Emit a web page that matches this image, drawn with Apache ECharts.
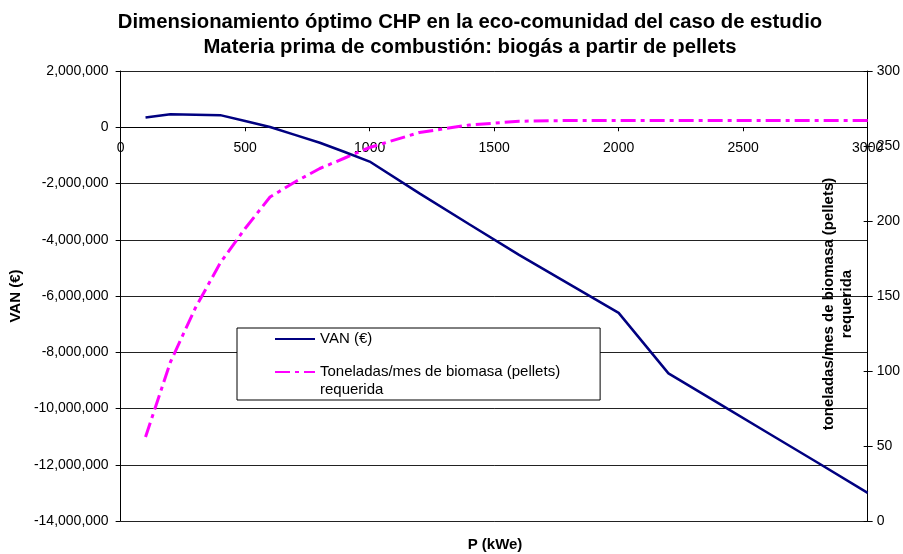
<!DOCTYPE html>
<html>
<head>
<meta charset="utf-8">
<script src="https://cdn.jsdelivr.net/npm/echarts@6/dist/echarts.min.js"></script>
<style>
html,body{margin:0;padding:0;background:#fff;}
#chart{width:903px;height:554px;}
</style>
</head>
<body>
<div id="chart"></div>
<script>
const titleText = 'Dimensionamiento óptimo CHP en la eco-comunidad del caso de estudio\nMateria prima de combustión: biogás a partir de pellets';
const xName = 'P (kWe)';
const leftName = 'VAN (€)';
const rightName = 'toneladas/mes de biomasa (pellets)\nrequerida';
const seriesNames = ['VAN (€)', 'Toneladas/mes de biomasa (pellets)\nrequerida'];
const P = [100, 200, 300, 400, 500, 600, 700, 800, 900, 1000, 1200, 1400, 1600, 1800, 2000, 2200, 2400, 2600, 2800, 3000];
const van = [350000, 460000, 445000, 430000, 220000, 10000, -270000, -550000, -880000, -1220000, -2350000, -3450000, -4540000, -5570000, -6600000, -8750000, -9810000, -10870000, -11930000, -13000000];
const tons = [56, 106, 142, 172, 195, 216, 226, 235, 242, 249, 259, 264, 266.5, 267, 267, 267, 267, 267, 267, 267];
const vanMin = -14000000, vanMax = 2000000, vanStep = 2000000;

const FONT = '"Liberation Sans", Arial, sans-serif';
const GRID = {left: 120, right: 35, top: 71, bottom: 33};
const plotH = 554 - GRID.top - GRID.bottom;
// distance from top of the plot to the zero line of the VAN axis
const zeroOffset = plotH * vanMax / (vanMax - vanMin);

const chart = echarts.init(document.getElementById('chart'), null, {renderer: 'canvas'});
const fmt = v => v.toLocaleString('en-US');

chart.setOption({
  animation: false,
  backgroundColor: '#fff',
  textStyle: {fontFamily: FONT, color: '#000'},
  title: [
    {text: titleText, left: 470, top: 10, textAlign: 'center', padding: 0,
     textStyle: {fontFamily: FONT, fontSize: 20.3, fontWeight: 'bold', lineHeight: 25, color: '#000'}},
    {text: xName, left: 495, top: 536, textAlign: 'center', padding: 0,
     textStyle: {fontFamily: FONT, fontSize: 15, fontWeight: 'bold', lineHeight: 18, color: '#000'}}
  ],
  legend: {
    orient: 'vertical', left: 237, top: 328,
    padding: [2, 40, 1, 37], itemGap: -3,
    itemWidth: 40, itemHeight: 14,
    backgroundColor: '#fff', borderColor: '#000', borderWidth: 1,
    itemStyle: {opacity: 0},
    textStyle: {fontFamily: FONT, fontSize: 15, color: '#000', lineHeight: 18},
    formatter: name => name === seriesNames[1] ? '\n' + name : name,
    data: [seriesNames[0], seriesNames[1]]
  },
  grid: GRID,
  xAxis: {
    type: 'value', min: 0, max: 3000, interval: 500,
    position: 'top', offset: -zeroOffset,
    axisLine: {show: true, onZero: false, lineStyle: {color: '#000', width: 1}},
    axisTick: {show: true, inside: true, length: 4, lineStyle: {color: '#000'}},
    axisLabel: {inside: true, fontFamily: FONT, fontSize: 14, color: '#000', margin: 14, formatter: v => String(v)},
    splitLine: {show: false}
  },
  yAxis: [
    {
      type: 'value', min: vanMin, max: vanMax, interval: vanStep, position: 'left',
      name: leftName, nameLocation: 'middle', nameGap: 93,
      nameTextStyle: {fontFamily: FONT, fontSize: 15, fontWeight: 'bold', color: '#000'},
      axisLine: {show: true, onZero: false, lineStyle: {color: '#000'}},
      axisTick: {show: true, length: 5, lineStyle: {color: '#000'}},
      axisLabel: {fontFamily: FONT, fontSize: 14, color: '#000', margin: 12, formatter: fmt},
      splitLine: {show: true, lineStyle: {color: '#222', width: 1}}
    },
    {
      type: 'value', min: 0, max: 300, interval: 50, position: 'right',
      name: rightName, nameLocation: 'middle', nameGap: -48,
      nameTextStyle: {fontFamily: FONT, fontSize: 15, fontWeight: 'bold', color: '#000', lineHeight: 18, align: 'center', padding: [0, 16, 0, 0]},
      axisLine: {show: true, onZero: false, lineStyle: {color: '#000'}},
      axisTick: {show: true, length: 5, lineStyle: {color: '#000'}},
      axisLabel: {fontFamily: FONT, fontSize: 14, color: '#000', margin: 9},
      splitLine: {show: false}
    },
    {
      type: 'value', min: 0, max: 300, interval: 50, position: 'right',
      axisLine: {show: false, onZero: false},
      axisTick: {show: true, inside: true, length: 4, lineStyle: {color: '#000'}},
      axisLabel: {show: false},
      splitLine: {show: false}
    }
  ],
  series: [
    {
      name: seriesNames[0], type: 'line', yAxisIndex: 0, xAxisIndex: 0,
      data: P.map((p, i) => [p, van[i]]),
      showSymbol: false, symbol: 'none', smooth: false,
      lineStyle: {color: '#000080', width: 2.5}, itemStyle: {color: '#000080'}, z: 3
    },
    {
      name: seriesNames[1], type: 'line', yAxisIndex: 1, xAxisIndex: 0,
      data: P.map((p, i) => [p, tons[i]]),
      showSymbol: false, symbol: 'none', smooth: false,
      lineStyle: {color: '#ff00ff', width: 3, type: [15, 5, 4, 5]}, itemStyle: {color: '#ff00ff'}, z: 2
    }
  ]
});
</script>
</body>
</html>
